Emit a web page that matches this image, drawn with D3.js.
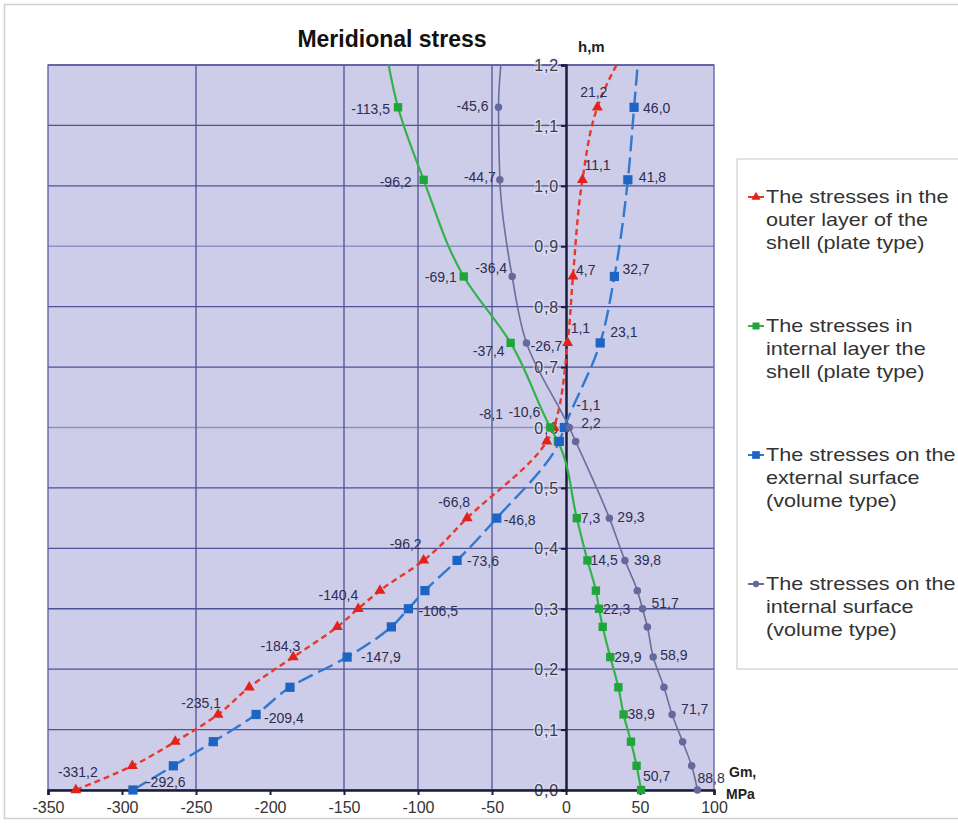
<!DOCTYPE html>
<html>
<head>
<meta charset="utf-8">
<script src="https://cdn.jsdelivr.net/npm/d3@7"></script>
<style>
  html, body { margin: 0; padding: 0; background: #ffffff; }
  svg { display: block; font-family: "Liberation Sans", Arial, sans-serif; }
</style>
</head>
<body>
<svg id="chart" width="958" height="826"></svg>
<script>
// ---------------- DATA ----------------
const heights = [0, 0.04, 0.08, 0.125, 0.17, 0.22, 0.27, 0.30, 0.33, 0.38, 0.45, 0.577, 0.60, 0.74, 0.85, 1.01, 1.13, 1.26];
const outerPlate   = [-331.2, -293, -264, -235.1, -214, -184.3, -154.5, -140.4, -125.7, -96.2, -66.8, -13.0, -8.1, 1.1, 4.7, 11.1, 21.2, 48];
const internalPlate = [50.7, 47.7, 43.9, 38.9, 35.4, 29.9, 24.8, 22.3, 20.2, 14.5, 7.3, -5.5, -10.6, -37.4, -69.1, -96.2, -113.5, -124];
const externalVol  = [-292.6, -265.3, -238.3, -209.4, -186.5, -147.9, -118, -106.5, -95.3, -73.6, -46.8, -4.5, -1.1, 23.1, 32.7, 41.8, 46.0, 50.5];
const internalVol  = [88.8, 84.9, 78.8, 71.7, 66.2, 58.9, 55.0, 51.7, 48.2, 39.8, 29.3, 6.5, 2.2, -26.7, -36.4, -44.7, -45.6, -41.5];
const labelledIdx = [0, 3, 5, 7, 9, 10, 12, 13, 14, 15, 16];
const seriesNames = [
  ["The stresses in the", "outer layer of the", "shell (plate type)"],
  ["The stresses in", "internal layer the", "shell (plate type)"],
  ["The stresses on the", "external surface", "(volume type)"],
  ["The stresses on the", "internal surface", "(volume type)"]
];
const xTicks = [-350, -300, -250, -200, -150, -100, -50, 0, 50, 100];
const yTicks = [0, 0.1, 0.2, 0.3, 0.4, 0.5, 0.6, 0.7, 0.8, 0.9, 1.0, 1.1, 1.2];
const xGridStrong = [-250, -150, -100, -50];
const yGridFaint = [0.6, 0.9];

// ---------------- STYLE / LAYOUT ----------------
const W = 958, H = 826;
const plot = { left: 48, right: 714, top: 65, bottom: 790 };
const styles = [
  { line: "#e8382c", marker: "#e3221a", dash: "6,4", width: 2.4, symbol: d3.symbolTriangle, size: 52 },
  { line: "#34b24a", marker: "#20a53a", dash: null,  width: 2.2, symbol: d3.symbolSquare,   size: 70 },
  { line: "#3079d0", marker: "#1e64c2", dash: "16,6", width: 2.4, symbol: d3.symbolSquare,  size: 85 },
  { line: "#6a6e9c", marker: "#64689a", dash: null,  width: 1.6, symbol: d3.symbolCircle,   size: 44 }
];
// label placement: [anchor, dx, dy] per labelled index
const placements = [
  { 0: ["middle", 2, -13], 3: ["end", 3, -6], 5: ["end", 7, -6], 7: ["end", 0, -9], 9: ["end", -2, -11], 10: ["end", 3, -11],
    12: ["end", -51, -9], 13: ["start", 3, -10], 14: ["start", 3, -1], 15: ["start", 2, -10], 16: ["end", 10, -10] },
  { 0: ["start", 2, -9], 3: ["start", 4, 5], 5: ["start", 4, 5], 7: ["start", 4, 5], 9: ["start", 3, 5], 10: ["start", 4, 5],
    12: ["end", -10, -11], 13: ["end", -6, 13], 14: ["end", -7, 6], 15: ["end", -12, 7], 16: ["end", -8, 7] },
  { 0: ["start", 13, -3], 3: ["start", 8, 9], 5: ["start", 14, 5], 7: ["start", 10, 7], 9: ["start", 10, 6], 10: ["start", 7, 7],
    12: ["start", 12, -18], 13: ["start", 10, -6], 14: ["start", 8, -2], 15: ["start", 11, 2], 16: ["start", 9, 6] },
  { 0: ["start", 0, -7], 3: ["start", 9, 0], 5: ["start", 7, 3], 7: ["start", 9, -1], 9: ["start", 9, 5], 10: ["start", 8, 4],
    12: ["start", 12, 0], 13: ["start", 4, 8], 14: ["end", -5, -3], 15: ["end", -4, 2], 16: ["end", -10, 4] }
];

const allSeries = [outerPlate, internalPlate, externalVol, internalVol];

const svg = d3.select("#chart");
const x = d3.scaleLinear().domain([-350, 100]).range([plot.left, plot.right]);
const y = d3.scaleLinear().domain([0, 1.2]).range([plot.bottom, plot.top]);
const fmt = v => d3.format(".1f")(v).replace(".", ",").replace("−", "-");

// outer frame
svg.append("rect").attr("x", 4.5).attr("y", 4.5).attr("width", W + 10).attr("height", 814)
  .attr("fill", "#ffffff").attr("stroke", "#cfcfcf").attr("stroke-width", 1.5);

// title
svg.append("text").attr("x", 392).attr("y", 47).attr("text-anchor", "middle")
  .attr("font-size", 23).attr("font-weight", "bold").attr("fill", "#111")
  .text("Meridional stress");

// plot background
svg.append("rect").attr("x", plot.left).attr("y", plot.top)
  .attr("width", plot.right - plot.left).attr("height", plot.bottom - plot.top)
  .attr("fill", "#cdcce9");

// gridlines
const grid = svg.append("g");
grid.selectAll(".hg").data(yTicks.filter(t => t > 0)).enter().append("line")
  .attr("x1", plot.left).attr("x2", plot.right)
  .attr("y1", d => y(d)).attr("y2", d => y(d))
  .attr("stroke", d => yGridFaint.some(f => Math.abs(f - d) < 1e-9) ? "#8e90c6" : "#4e5298")
  .attr("stroke-width", 1.3);
grid.selectAll(".vg").data(xGridStrong).enter().append("line")
  .attr("x1", d => x(d)).attr("x2", d => x(d))
  .attr("y1", plot.top).attr("y2", plot.bottom)
  .attr("stroke", "#4e5298").attr("stroke-width", 1.3);
svg.append("rect").attr("x", plot.left).attr("y", plot.top)
  .attr("width", plot.right - plot.left).attr("height", plot.bottom - plot.top)
  .attr("fill", "none").attr("stroke", "#5a5e9e").attr("stroke-width", 1.3);

// clip
svg.append("clipPath").attr("id", "clip").append("rect")
  .attr("x", plot.left).attr("y", plot.top)
  .attr("width", plot.right - plot.left).attr("height", plot.bottom - plot.top);

// axes
const yAxis = d3.axisLeft(y).tickValues(yTicks).tickSize(5).tickFormat(d => d3.format(".1f")(d).replace(".", ","));
const gy = svg.append("g").attr("transform", `translate(${x(0)},0)`).call(yAxis);
gy.select(".domain").attr("stroke", "#1b1b3b").attr("stroke-width", 2.5);
gy.selectAll(".tick line").attr("stroke", "#1b1b3b").attr("stroke-width", 2);
gy.selectAll(".tick text").attr("font-size", 16).attr("fill", "#3a3a4a").attr("x", -7).attr("dy", "0.35em")
  .attr("letter-spacing", 0.8)
  .style("paint-order", "stroke").attr("stroke", "rgba(232,232,246,0.6)").attr("stroke-width", 3)
  .attr("font-family", "Liberation Sans, Arial, sans-serif");

const xAxis = d3.axisBottom(x).tickValues(xTicks).tickSize(5).tickFormat(d3.format("d"));
const gx = svg.append("g").attr("transform", `translate(0,${plot.bottom})`).call(xAxis);
gx.select(".domain").attr("stroke", "#1b1b3b").attr("stroke-width", 2.5);
gx.selectAll(".tick line").attr("stroke", "#1b1b3b").attr("stroke-width", 2);
gx.selectAll(".tick text").attr("font-size", 16).attr("fill", "#333").attr("y", 12)
  .attr("font-family", "Liberation Sans, Arial, sans-serif")
  .text(d => d3.format("d")(d).replace("−", "-"));

// axis titles
svg.append("text").attr("x", 578).attr("y", 52).attr("font-size", 15).attr("font-weight", "bold").attr("fill", "#222").text("h,m");
svg.append("text").attr("x", 729).attr("y", 777).attr("font-size", 14).attr("font-weight", "bold").attr("fill", "#222").text("Gm,");
svg.append("text").attr("x", 726).attr("y", 799).attr("font-size", 14).attr("font-weight", "bold").attr("fill", "#222").text("MPa");

// lines
const lineGen = d3.line().x(d => x(d.v)).y(d => y(d.h)).curve(d3.curveMonotoneY);
const dataOf = vals => heights.map((h, i) => ({ h, v: vals[i], i }));

const linesG = svg.append("g").attr("clip-path", "url(#clip)");
allSeries.forEach((vals, s) => {
  linesG.append("path").datum(dataOf(vals))
    .attr("d", lineGen).attr("fill", "none")
    .attr("stroke", styles[s].line).attr("stroke-width", styles[s].width)
    .attr("stroke-dasharray", styles[s].dash);
});

// markers
const markG = svg.append("g");
allSeries.forEach((vals, s) => {
  const sym = d3.symbol().type(styles[s].symbol).size(styles[s].size);
  markG.selectAll(null).data(dataOf(vals).filter(d => d.h <= 1.2)).enter().append("path")
    .attr("d", sym)
    .attr("transform", d => `translate(${x(d.v)},${y(d.h)})`)
    .attr("fill", styles[s].marker);
});

// data labels
const labG = svg.append("g");
allSeries.forEach((vals, s) => {
  labelledIdx.forEach(i => {
    const p = placements[s][i];
    labG.append("text")
      .attr("x", x(vals[i]) + p[1]).attr("y", y(heights[i]) + p[2])
      .attr("text-anchor", p[0]).attr("font-size", 14).attr("fill", "#2c2e52")
      .text(fmt(vals[i]));
  });
});

// legend
const lg = svg.append("g");
lg.append("rect").attr("x", 737).attr("y", 159).attr("width", 240).attr("height", 510)
  .attr("fill", "#ffffff").attr("stroke", "#cfcfcf").attr("stroke-width", 1.2);
const legendTop = [203, 332, 461, 590];
seriesNames.forEach((lines, s) => {
  const ly = legendTop[s];
  lg.append("line").attr("x1", 748).attr("x2", 764).attr("y1", ly - 6).attr("y2", ly - 6)
    .attr("stroke", styles[s].line).attr("stroke-width", 2);
  lg.append("path").attr("d", d3.symbol().type(styles[s].symbol).size(styles[s].size * 0.7)())
    .attr("transform", `translate(756,${ly - 6})`).attr("fill", styles[s].marker);
  lines.forEach((t, k) => {
    lg.append("text").attr("transform", `translate(766,${ly + k * 23}) scale(1.2,1)`)
      .attr("font-size", 18).attr("fill", "#333").text(t);
  });
});
</script>
</body>
</html>
